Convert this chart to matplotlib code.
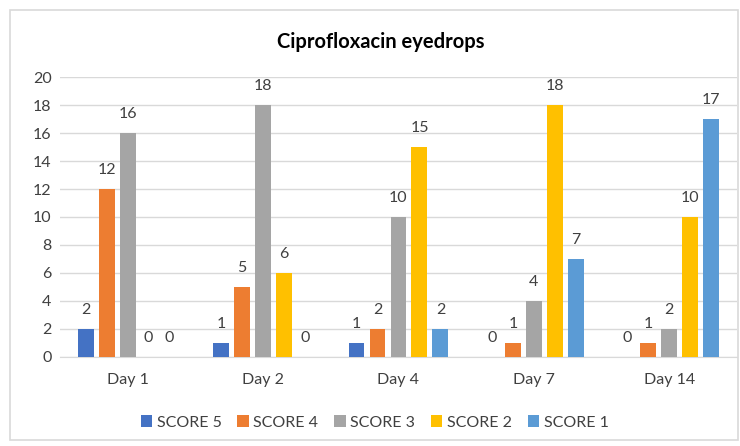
import numpy as np
import matplotlib.pyplot as plt
from matplotlib.patches import Rectangle

plt.rcParams['font.family'] = ['Lato', 'DejaVu Sans']

days = ['Day 1', 'Day 2', 'Day 4', 'Day 7', 'Day 14']
series = ['SCORE 5', 'SCORE 4', 'SCORE 3', 'SCORE 2', 'SCORE 1']
score5 = [2, 1, 1, 0, 0]
score4 = [12, 5, 2, 1, 1]
score3 = [16, 18, 10, 4, 2]
score2 = [0, 6, 15, 18, 10]
score1 = [0, 0, 2, 7, 17]
values = [score5, score4, score3, score2, score1]
colors = ['#4472C4', '#ED7D31', '#A5A5A5', '#FFC000', '#5B9BD5']

fig = plt.figure(figsize=(7.4, 4.46), dpi=100)
ax = fig.add_axes([0.081, 0.2, 0.915, 0.627])

# outer chart border
fig.patches.append(Rectangle((0.014, 0.013), 0.983, 0.965, transform=fig.transFigure,
                             fill=False, edgecolor='#D9D9D9', linewidth=1.2))

x = np.arange(len(days))
step = 0.155
width = 0.118
for i, (name, vals, col) in enumerate(zip(series, values, colors)):
    pos = x + (i - 2) * step
    bars = ax.bar(pos, vals, width=width, color=col, label=name, zorder=3)
    for b, v in zip(bars, vals):
        ax.text(b.get_x() + b.get_width() / 2, v + 0.85, str(v), ha='center', va='bottom',
                fontsize=11.5, color='#404040')

ax.set_xlim(-0.5, len(days) - 0.5)
ax.set_ylim(0, 20)
ax.set_yticks(range(0, 21, 2))
ax.set_xticks(x)
ax.set_xticklabels(days)
ax.tick_params(length=0, labelsize=11.5, labelcolor='#404040')
ax.tick_params(axis='x', pad=12)
ax.tick_params(axis='y', pad=6)
ax.yaxis.grid(True, color='#D9D9D9', linewidth=1, zorder=0)
for s in ['top', 'right', 'left']:
    ax.spines[s].set_visible(False)
ax.spines['bottom'].set_color('#D9D9D9')

fig.text(0.515, 0.905, 'Ciprofloxacin eyedrops', ha='center', va='center',
         fontsize=14.5, fontweight='bold', color='black')

ax.legend(loc='center', bbox_to_anchor=(0.465, -0.235), ncol=5, frameon=False,
          fontsize=11.5, handlelength=0.7, handleheight=0.7, handletextpad=0.3,
          columnspacing=1.0, labelcolor='#404040')

fig.savefig('out.png', dpi=100)
